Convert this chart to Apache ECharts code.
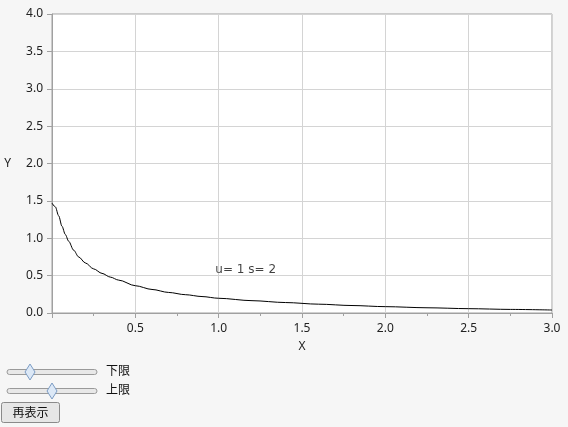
<!DOCTYPE html>
<html><head><meta charset="utf-8">
<script src="https://cdn.jsdelivr.net/npm/echarts@6/dist/echarts.min.js"></script>
<style>html,body{margin:0;padding:0;background:#f6f6f6}#c{width:568px;height:427px}</style>
</head><body><div id="c"></div>
<script>
const xValues = [0, 0.02, 0.04, 0.06, 0.08, 0.1, 0.13, 0.16, 0.2, 0.25, 0.3, 0.35, 0.4, 0.5, 0.6, 0.7, 0.8, 0.9, 1.0, 1.2, 1.4, 1.6, 1.8, 2.0, 2.25, 2.5, 2.75, 3.0];
const yValues = [1.47, 1.42, 1.30, 1.16, 1.05, 0.96, 0.84, 0.75, 0.67, 0.59, 0.53, 0.48, 0.44, 0.365, 0.315, 0.275, 0.245, 0.22, 0.197, 0.165, 0.14, 0.118, 0.1, 0.085, 0.07, 0.058, 0.048, 0.04];
const curveLabel = 'u= 1 s= 2';
const labelPos = [0.98, 0.575];
const xTicks = [0, 0.5, 1.0, 1.5, 2.0, 2.5, 3.0];
const yTicks = [0, 0.5, 1, 1.5, 2, 2.5, 3, 3.5, 4];
const sliderLabels = ['下限', '上限'];
const buttonText = '再表示';

const FONT = '"Noto Sans", "Noto Sans CJK JP", sans-serif';
const chart = echarts.init(document.getElementById('c'));
const lineData = xValues.map((x, i) => [x, yValues[i]]);

function slider(y, knobX) {
  return [
    {type:'rect', shape:{x:7, y:y-2.5, width:90, height:5, r:2.5}, style:{fill:'#e8e8e8', stroke:'#9a9a9a', lineWidth:1}},
    {type:'polygon', shape:{points:[[knobX, y-8],[knobX+5, y],[knobX, y+8],[knobX-5, y]]}, style:{fill:'#dce8f6', stroke:'#7c9cc4', lineWidth:1}}
  ];
}

chart.setOption({
  backgroundColor: '#f6f6f6',
  animation: false,
  grid: {left:52, right:16, top:14, bottom:114, show:true, backgroundColor:'#ffffff', borderColor:'#a0a0a0', borderWidth:1},
  xAxis: {
    type:'value', min:0, max:3, interval:0.5,
    name:'X', nameLocation:'middle', nameGap:28,
    nameTextStyle:{color:'#222', fontFamily:FONT, fontSize:12},
    axisLine:{show:true, lineStyle:{color:'#a0a0a0'}},
    axisTick:{show:true, length:5, lineStyle:{color:'#a0a0a0'}},
    minorTick:{show:true, splitNumber:2, length:3, lineStyle:{color:'#a0a0a0'}},
    splitLine:{show:true, lineStyle:{color:'#d4d4d4'}},
    axisLabel:{color:'#222', fontFamily:FONT, fontSize:12, margin:10,
      formatter: v => (v === 0 ? '' : (xTicks.includes(v) ? v.toFixed(1) : ''))}
  },
  yAxis: {
    type:'value', min:0, max:4, interval:0.5,
    name:'Y', nameLocation:'middle', nameGap:41, nameRotate:0,
    nameTextStyle:{color:'#222', fontFamily:FONT, fontSize:12},
    axisLine:{show:true, lineStyle:{color:'#a0a0a0'}},
    axisTick:{show:true, length:5, lineStyle:{color:'#a0a0a0'}},
    splitLine:{show:true, lineStyle:{color:'#d4d4d4'}},
    axisLabel:{color:'#222', fontFamily:FONT, fontSize:12, margin:9,
      formatter: v => (yTicks.includes(v) ? v.toFixed(1) : '')}
  },
  series: [
    {type:'line', data: lineData, smooth:0.3, smoothMonotone:'x', symbol:'none', lineStyle:{color:'#000', width:1}, z:3},
    {type:'scatter', data:[labelPos], symbolSize:0, silent:true,
      label:{show:true, position:'right', distance:0, formatter: curveLabel, color:'#111', fontFamily:'"DejaVu Sans", sans-serif', fontSize:12}}
  ],
  graphic: [
    ...slider(372, 30),
    ...slider(391, 52),
    {type:'text', left:106, top:364, style:{text:sliderLabels[0], fill:'#111', font:'12px "Noto Sans CJK JP", sans-serif'}},
    {type:'text', left:106, top:383, style:{text:sliderLabels[1], fill:'#111', font:'12px "Noto Sans CJK JP", sans-serif'}},
    {type:'rect', shape:{x:1.5, y:402.5, width:58, height:20, r:2}, style:{fill:'#e6e6e6', stroke:'#8a8a8a', lineWidth:1}},
    {type:'text', x:30.5, y:412.5, style:{text:buttonText, fill:'#111', align:'center', verticalAlign:'middle', font:'12px "Noto Sans CJK JP", sans-serif'}}
  ]
});
</script></body></html>
